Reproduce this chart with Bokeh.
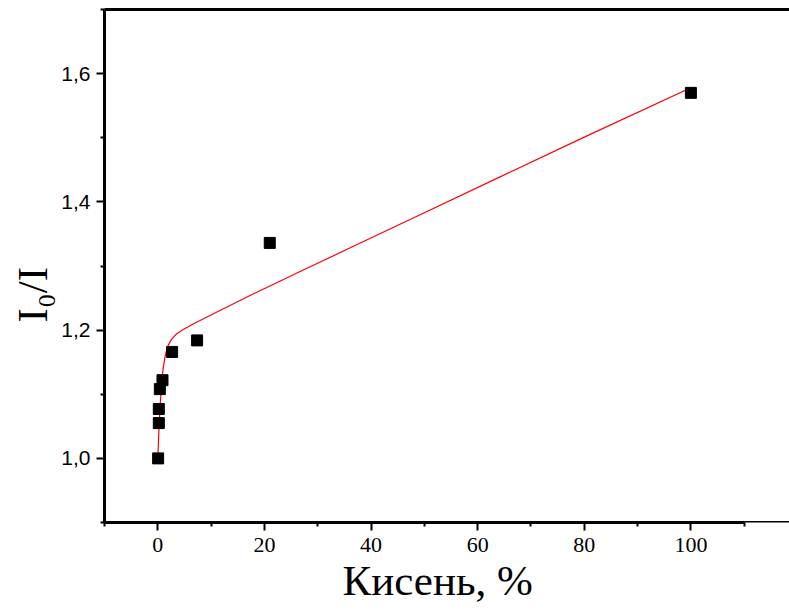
from bokeh.plotting import figure
from bokeh.models import FixedTicker, CustomJSTickFormatter, Title, LinearAxis
from bokeh.embed import file_html
from bokeh.resources import INLINE

# measured points
oxygen = [0.06, 0.19, 0.19, 0.38, 0.88, 2.68, 7.37, 21.0, 100.0]
ratio = [1.000, 1.055, 1.077, 1.108, 1.122, 1.166, 1.184, 1.336, 1.570]

# fitted curve
fit_x = [0, 0.1, 0.2, 0.375, 0.55, 0.7, 0.85, 1.0, 1.3, 1.63, 2.0, 2.6, 3.5,
         4.75, 7, 11, 17.3, 26.6, 36, 50, 64.2, 80, 100]
fit_y = [1.000, 1.022, 1.042, 1.072, 1.097, 1.114, 1.128, 1.140, 1.156, 1.168,
         1.177, 1.186, 1.194, 1.201, 1.211, 1.228, 1.254, 1.291, 1.328, 1.383,
         1.439, 1.501, 1.578]

x_major = [0, 20, 40, 60, 80, 100]
x_minor = [-10, 10, 30, 50, 70, 90, 110]
y_major = [1.0, 1.2, 1.4, 1.6]
y_minor = [0.9, 1.1, 1.3, 1.5, 1.7]
x_title = "Кисень, %"
y_title = "I₀/I"

p = figure(width=789, height=610, x_range=(-10, 118.5), y_range=(0.9, 1.7),
           output_backend="svg", toolbar_location=None,
           min_border_left=104, min_border_right=0, min_border_top=9,
           min_border_bottom=88)
p.grid.visible = False
p.outline_line_color = None
p.background_fill_color = "white"
p.border_fill_color = "white"

p.xaxis.ticker = FixedTicker(ticks=x_major, minor_ticks=x_minor)
p.yaxis.ticker = FixedTicker(ticks=y_major, minor_ticks=y_minor)
p.yaxis.formatter = CustomJSTickFormatter(code="return tick.toFixed(1).replace('.', ',');")
p.xaxis.bounds = (x_minor[0], x_minor[-1])

for ax in (p.xaxis, p.yaxis):
    ax.axis_line_width = 3
    ax.axis_line_color = "black"
    ax.major_tick_out = 8
    ax.major_tick_in = 0
    ax.minor_tick_out = 4
    ax.minor_tick_in = 0
    ax.major_tick_line_width = 2
    ax.minor_tick_line_width = 2
    ax.major_tick_line_color = "black"
    ax.minor_tick_line_color = "black"
    ax.major_label_text_color = "black"
p.xaxis.major_label_text_font = "Liberation Sans Narrow"
p.xaxis.major_label_text_font_size = "22px"
p.yaxis.major_label_text_font = "Liberation Sans"
p.yaxis.major_label_text_font_size = "21px"
p.xaxis.major_label_standoff = 7
p.yaxis.major_label_standoff = 6

# top frame line
top = LinearAxis(ticker=FixedTicker(ticks=[]), axis_line_width=3, axis_line_color="black",
                 major_tick_out=0, major_tick_in=0, minor_tick_out=0, minor_tick_in=0,
                 major_label_text_font_size="0px")
p.add_layout(top, "above")

# thin continuation of the bottom frame past the x-axis end
p.segment(x0=[x_minor[-1]], y0=[y_minor[0]], x1=[p.x_range.end], y1=[y_minor[0]],
          line_color="black", line_width=3)

p.line(fit_x, fit_y, line_color="#ff0000", line_width=1.2)
p.scatter(oxygen, ratio, marker="square", size=11, fill_color="black", line_color="black")

p.add_layout(Title(text=x_title, align="left", offset=238, text_font="Liberation Serif",
                   text_font_size="43px", text_font_style="normal", text_color="black",
                   standoff=0), "below")
p.add_layout(Title(text=y_title, align="left", offset=200, text_font="Liberation Serif",
                   text_font_size="43px", text_font_style="normal", text_color="black",
                   standoff=6), "left")

open("out.html", "w").write(file_html(p, INLINE))
